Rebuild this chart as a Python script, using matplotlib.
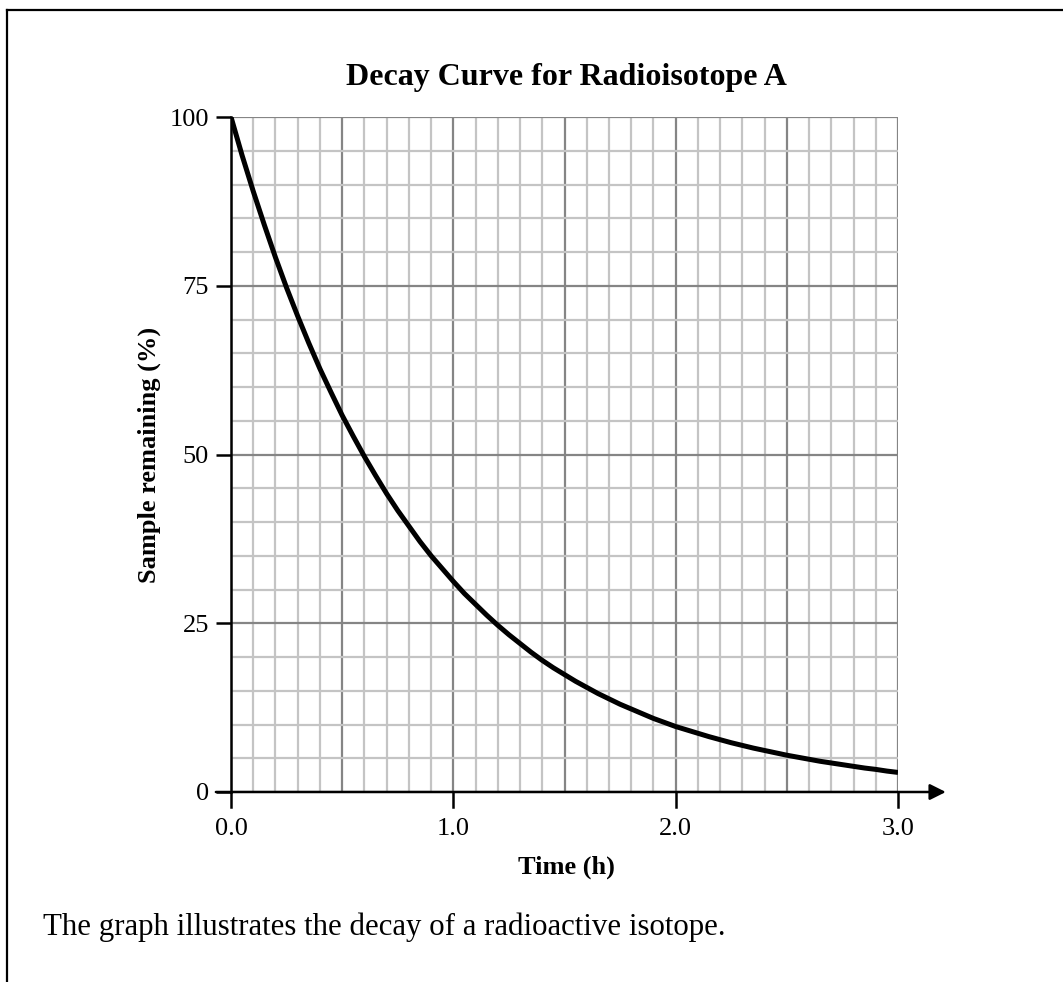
import matplotlib

matplotlib.use("Agg")
import matplotlib.pyplot as plt
from matplotlib.lines import Line2D
from matplotlib.ticker import MultipleLocator

plt.rcParams["font.family"] = ["Liberation Serif", "DejaVu Serif"]

# Values (time in h, % remaining)
time_h = [0.00, 0.05, 0.10, 0.15, 0.20, 0.25, 0.30, 0.35, 0.40, 0.45,
          0.50, 0.55, 0.60, 0.65, 0.70, 0.75, 0.80, 0.85, 0.90, 0.95,
          1.00, 1.05, 1.10, 1.15, 1.20, 1.25, 1.30, 1.35, 1.40, 1.45,
          1.50, 1.55, 1.60, 1.65, 1.70, 1.75, 1.80, 1.85, 1.90, 1.95,
          2.00, 2.05, 2.10, 2.15, 2.20, 2.25, 2.30, 2.35, 2.40, 2.45,
          2.50, 2.55, 2.60, 2.65, 2.70, 2.75, 2.80, 2.85, 2.90, 2.95, 3.00]
remaining = [100.0, 94.3, 89.0, 84.0, 79.2, 74.7, 70.5, 66.5, 62.7, 59.2,
             55.8, 52.7, 49.7, 46.9, 44.2, 41.7, 39.4, 37.1, 35.0, 33.1,
             31.2, 29.4, 27.8, 26.2, 24.7, 23.3, 22.0, 20.7, 19.5, 18.4,
             17.4, 16.4, 15.5, 14.6, 13.8, 13.0, 12.3, 11.6, 10.9, 10.3,
             9.7, 9.2, 8.7, 8.2, 7.75, 7.3, 6.9, 6.5, 6.15, 5.8,
             5.45, 5.15, 4.85, 4.55, 4.3, 4.05, 3.8, 3.55, 3.35, 3.1, 2.9]
x_ticks = [0.0, 1.0, 2.0, 3.0]
x_tick_labels = ["0.0", "1.0", "2.0", "3.0"]
y_ticks = [0, 25, 50, 75, 100]

title = "Decay Curve for Radioisotope A"
x_label = "Time (h)"
y_label = "Sample remaining (%)"
caption = "The graph illustrates the decay of a radioactive isotope."

W, H = 1063, 982
fig = plt.figure(figsize=(W / 100, H / 100), dpi=100)
ax = fig.add_axes([231 / W, 1 - 792 / H, 667 / W, 675 / H])

ax.set_xlim(0, 3.0)
ax.set_ylim(0, 100)

# graph-paper grid
ax.xaxis.set_major_locator(MultipleLocator(0.5))
ax.xaxis.set_minor_locator(MultipleLocator(0.1))
ax.yaxis.set_minor_locator(MultipleLocator(5))
ax.grid(which="minor", color="#c4c4c4", lw=1.6, zorder=0)
ax.grid(which="major", color="#858585", lw=1.6, zorder=1)
ax.set_axisbelow(True)

ax.plot(time_h, remaining, color="black", lw=3.6, solid_capstyle="butt", zorder=5)

# tick labels only at full hours; short tick marks below the axis there
ax.set_xticks([0.0, 0.5, 1.0, 1.5, 2.0, 2.5, 3.0])
ax.set_xticklabels(["0.0", "", "1.0", "", "2.0", "", "3.0"])
ax.tick_params(axis="x", which="major", length=0, labelsize=19, pad=19)
for xt in x_ticks:
    ax.add_line(Line2D([xt, xt], [0, -2.2], color="black", lw=1.8,
                       clip_on=False, zorder=6))
ax.set_yticks(y_ticks)
ax.tick_params(axis="y", which="major", length=11, width=1.8, direction="out",
               labelsize=19, pad=5)
ax.tick_params(which="minor", length=0)

for s in ["top", "right", "bottom"]:
    ax.spines[s].set_visible(False)
ax.spines["left"].set_linewidth(1.8)
ax.spines["left"].set_zorder(6)

# x axis with arrow head
ax.annotate("", xy=(3.215, 0), xytext=(-0.068, 0),
            xycoords="data", annotation_clip=False,
            arrowprops=dict(arrowstyle="-|>", color="black", lw=1.8,
                            mutation_scale=24, shrinkA=0, shrinkB=0),
            zorder=6)

fig.text(566 / W, 1 - 867 / H, x_label, fontsize=19, fontweight="bold",
         ha="center", va="center")
fig.text(149 / W, 1 - 455 / H, y_label, fontsize=19, fontweight="bold",
         ha="center", va="center", rotation=90)
fig.text(566 / W, 1 - 78 / H, title, fontsize=23, fontweight="bold",
         ha="center", va="center")

fig.text(43 / W, 1 - 935 / H, caption, fontsize=22.2, ha="left", va="baseline")

# frame around the figure (left and top only)
fig.add_artist(Line2D([7 / W, 7 / W], [0, 1 - 10 / H], color="black",
                      lw=1.6, transform=fig.transFigure))
fig.add_artist(Line2D([7 / W, 1], [1 - 10 / H, 1 - 10 / H], color="black",
                      lw=1.6, transform=fig.transFigure))

fig.savefig("out.png", dpi=100)
